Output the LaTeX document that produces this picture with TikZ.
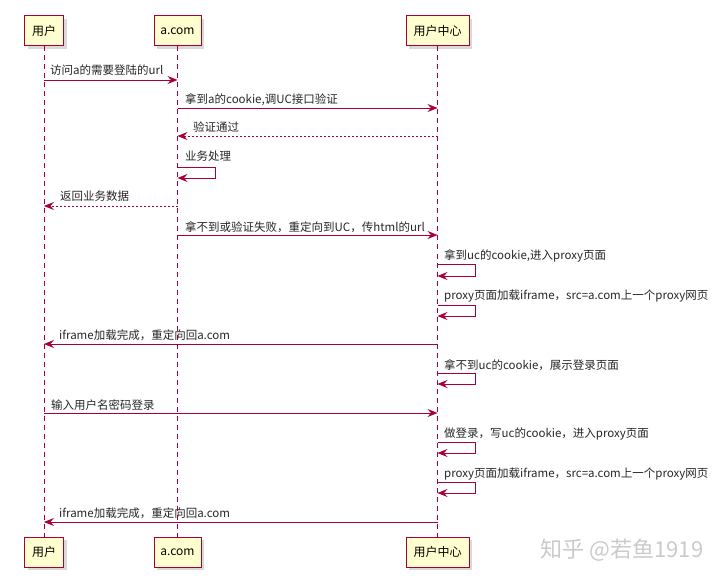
\documentclass[tikz,border=0pt]{standalone}
\usepackage{fontspec}
\setmainfont{Noto Sans CJK SC}
\usetikzlibrary{arrows.meta,shadows}
\definecolor{umlred}{HTML}{A80036}
\definecolor{umlfill}{HTML}{FEFECE}
\definecolor{markgray}{HTML}{CACACA}
\tikzset{
  actorbox/.style={draw=umlred,fill=umlfill,line width=1pt,minimum height=30pt,inner sep=0pt,font=\fontsize{12}{14}\selectfont,
    drop shadow={shadow xshift=3pt,shadow yshift=-3pt,opacity=0.3}},
  lifeline/.style={draw=umlred,line width=0.7pt,dash pattern=on 5pt off 4pt},
  msgarr/.style={-{Stealth[length=10pt,width=8pt,inset=3.5pt]},draw=umlred,line width=0.9pt},
  replyarr/.style={msgarr,dash pattern=on 2pt off 2pt},
  msglabel/.style={font=\fontsize{11.5}{13}\selectfont,text=black!85,inner sep=0pt,anchor=base west}
}

\begin{document}
\begin{tikzpicture}[x=1pt,y=-1pt]
  \useasboundingbox (0,0) rectangle (720,580);

  % participants, top and bottom
  \node[actorbox,minimum width=39pt] (userT) at (44,31) {用户};
  \node[actorbox,minimum width=47pt] (acomT) at (177.5,31) {a.com};
  \node[actorbox,minimum width=63pt] (ucT) at (437.5,31) {用户中心};
  \node[actorbox,minimum width=39pt] (userB) at (44,552) {用户};
  \node[actorbox,minimum width=47pt] (acomB) at (177.5,552) {a.com};
  \node[actorbox,minimum width=63pt] (ucB) at (437.5,552) {用户中心};
  \draw[lifeline] (userT) -- (userB);
  \draw[lifeline] (acomT) -- (acomB);
  \draw[lifeline] (ucT) -- (ucB);

  % messages
  \node[msglabel] (t1) at (50,75) {访问a的需要登陆的url};
  \draw[msgarr] (userT |- 0,80) -- (acomT |- 0,80);
  \node[msglabel] (t2) at (185,104) {拿到a的cookie,调UC接口验证};
  \draw[msgarr] (acomT |- 0,108) -- (ucT |- 0,108);
  \node[msglabel] (t3) at (193,132) {验证通过};
  \draw[replyarr] (ucT |- 0,136) -- (acomT |- 0,136);
  \node[msglabel] (t4) at (185,161) {业务处理};
  \draw[msgarr] (acomT |- 0,167) -- ++(38,0) -- ++(0,11) -- (acomT |- 0,178);
  \node[msglabel] (t5) at (60,201) {返回业务数据};
  \draw[replyarr] (acomT |- 0,206) -- (userT |- 0,206);
  \node[msglabel] (t6) at (185,231) {拿不到或验证失败，重定向到UC，传html的url};
  \draw[msgarr] (acomT |- 0,235) -- (ucT |- 0,235);

  \node[msglabel] (t7) at (444,259) {拿到uc的cookie,进入proxy页面};
  \draw[msgarr] (ucT |- 0,264) -- ++(38,0) -- ++(0,12) -- (ucT |- 0,276);
  \node[msglabel] (t8) at (444,299) {proxy页面加载iframe，src=a.com上一个proxy网页};
  \draw[msgarr] (ucT |- 0,305) -- ++(38,0) -- ++(0,11) -- (ucT |- 0,316);
  \node[msglabel] (t9) at (59,339) {iframe加载完成，重定向回a.com};
  \draw[msgarr] (ucT |- 0,344) -- (userT |- 0,344);
  \node[msglabel] (t10) at (444,369) {拿不到uc的cookie，展示登录页面};
  \draw[msgarr] (ucT |- 0,373) -- ++(38,0) -- ++(0,11) -- (ucT |- 0,384);
  \node[msglabel] (t11) at (51,409) {输入用户名密码登录};
  \draw[msgarr] (userT |- 0,413) -- (ucT |- 0,413);
  \node[msglabel] (t12) at (444,437) {做登录，写uc的cookie，进入proxy页面};
  \draw[msgarr] (ucT |- 0,442) -- ++(38,0) -- ++(0,11) -- (ucT |- 0,453);
  \node[msglabel] (t13) at (444,477) {proxy页面加载iframe，src=a.com上一个proxy网页};
  \draw[msgarr] (ucT |- 0,482) -- ++(38,0) -- ++(0,11) -- (ucT |- 0,493);
  \node[msglabel] (t14) at (59,517) {iframe加载完成，重定向回a.com};
  \draw[msgarr] (ucT |- 0,522) -- (userT |- 0,522);

  \node[font=\fontsize{22}{24}\selectfont,text=markgray] (mark) at (622,550) {知乎 @若鱼1919};
\end{tikzpicture}
\end{document}
